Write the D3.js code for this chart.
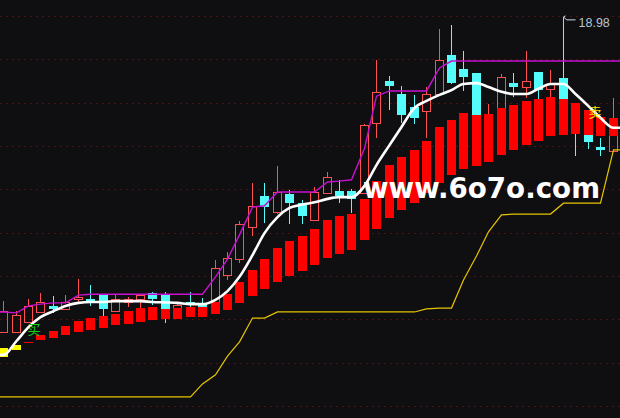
<!DOCTYPE html>
<html><head><meta charset="utf-8">
<script src="https://cdn.jsdelivr.net/npm/d3@7/dist/d3.min.js"></script>
<style>html,body{margin:0;padding:0;background:#0f0f12;overflow:hidden}</style>
</head><body><svg id="c" width="620" height="418"></svg>
<script>
// ---- data (prices) ----
const opens  = [11.71,11.71,11.94,12.17,12.31,12.24,12.47,12.47,12.56,12.19,12.40,12.47,12.61,12.58,12.26,12.40,12.38,12.40,13.02,13.39,14.13,14.85,14.48,14.89,14.68,14.29,14.92,14.96,14.96,14.92,16.53,17.50,17.20,16.90,16.81,17.20,18.10,17.78,17.68,16.25,16.60,17.45,17.36,17.71,17.32,17.57,16.92,16.72,15.98,15.88];
const highs  = [12.42,12.19,12.47,12.61,12.54,12.56,12.93,12.79,12.58,12.58,12.52,12.56,12.63,12.63,12.35,12.63,12.49,13.37,13.55,14.27,15.15,15.15,15.54,14.98,14.75,15.05,15.40,15.22,15.01,16.51,17.98,17.62,17.38,17.18,17.36,18.70,18.79,18.19,17.68,16.97,17.66,17.68,18.19,17.71,17.75,18.98,16.97,16.78,16.18,17.11];
const lows   = [11.71,11.68,11.94,12.17,12.15,12.24,12.38,12.31,12.08,12.19,12.28,12.26,12.33,11.92,12.24,12.28,12.26,12.38,12.91,13.30,13.92,14.22,14.43,14.20,14.20,14.29,14.89,14.68,14.45,14.92,16.18,16.83,16.53,16.51,16.18,17.20,17.43,17.27,16.69,16.14,16.60,17.13,17.11,17.08,17.13,17.06,15.77,15.93,15.77,15.88];
const closes = [12.19,12.10,12.31,12.40,12.24,12.40,12.52,12.42,12.24,12.47,12.47,12.56,12.47,12.24,12.33,12.35,12.28,13.18,13.42,14.20,14.62,14.59,14.94,14.68,14.38,14.94,15.28,14.85,14.78,16.48,17.25,17.38,16.72,16.65,17.20,17.98,17.45,17.59,16.72,16.69,17.59,17.36,17.50,17.29,17.43,17.06,16.37,16.09,15.91,16.60];
const bandTop    = [11.34,11.41,11.48,11.64,11.73,11.85,11.96,12.03,12.08,12.12,12.19,12.26,12.28,12.24,12.26,12.28,12.28,12.40,12.58,12.86,13.14,13.39,13.65,13.81,13.92,14.08,14.29,14.38,14.43,14.78,15.19,15.56,15.75,15.91,16.12,16.44,16.60,16.76,16.72,16.74,16.88,16.95,17.04,17.08,17.13,17.08,16.99,16.83,16.67,16.65];
const bandBottom = [11.13,11.29,11.45,11.52,11.57,11.64,11.71,11.75,11.80,11.87,11.89,11.94,11.98,12.01,12.01,12.05,12.05,12.12,12.22,12.38,12.54,12.70,12.86,13.00,13.12,13.25,13.42,13.51,13.60,13.83,14.08,14.34,14.52,14.68,14.92,15.15,15.33,15.47,15.54,15.63,15.79,15.91,16.02,16.12,16.23,16.25,16.28,16.25,16.23,16.23];
const bandState  = ["Y","Y","R","R","R","R","R","R","R","R","R","R","R","R","R","R","R","R","R","R","R","R","R","R","R","R","R","R","R","R","R","R","R","R","R","R","R","R","R","R","R","R","R","R","R","R","R","R","R","R"];
const whiteLine   = [11.18,11.50,11.82,12.05,12.19,12.31,12.38,12.40,12.40,12.42,12.42,12.42,12.40,12.39,12.38,12.35,12.35,12.45,12.65,12.98,13.48,13.99,14.36,14.57,14.65,14.70,14.78,14.82,14.82,15.08,15.56,16.02,16.44,16.88,17.04,17.18,17.29,17.43,17.45,17.36,17.25,17.20,17.20,17.32,17.43,17.43,17.20,16.92,16.65,16.42];
const magentaLine = [12.17,12.15,12.31,12.35,12.38,12.38,12.56,12.58,12.58,12.58,12.58,12.58,12.58,12.58,12.58,12.58,12.58,12.98,13.39,13.95,14.59,14.62,14.94,14.94,14.94,14.94,15.17,15.19,15.22,15.95,17.15,17.27,17.27,17.27,17.27,17.80,17.96,17.96,17.96,17.96,17.96,17.96,17.96,17.96,17.96,17.96,17.96,17.96,17.96,17.96];
const yellowLine  = [10.21,10.21,10.21,10.21,10.21,10.21,10.21,10.21,10.21,10.21,10.21,10.21,10.21,10.21,10.21,10.21,10.51,10.72,11.15,11.48,12.03,12.03,12.17,12.17,12.17,12.17,12.17,12.17,12.17,12.17,12.17,12.17,12.17,12.17,12.24,12.26,12.26,12.91,13.46,14.02,14.41,14.43,14.43,14.43,14.43,14.68,14.68,14.68,14.68,15.91];
const gridPrices = [10,11,12,13,14,15,16,17,18,19];
const peakIndex = 45, peakLabel = "18.98";
const buyIndex = 2, buyPrice = 11.78, buyLabel = "买";
const sellIndex = 47, sellPrice = 16.78, sellLabel = "卖";
const watermark = "www.6o7o.com";

// ---- drawing ----
const W = 620, H = 418;
const svg = d3.select("#c");
svg.append("rect").attr("width", W).attr("height", H).attr("fill", "#0f0f12");
const idx = d3.range(opens.length);
const x = d3.scaleBand().domain(idx).range([-2.62, 619.38]).paddingInner(0.277).paddingOuter(0.1385);
const y = d3.scaleLinear().domain([10, 19]).range([406, 16]);
const bw = Math.round(x.bandwidth());
const xl = i => Math.round(x(i));
const cx = i => xl(i) + Math.floor(bw / 2) + 0.5;

// grid
svg.append("g").selectAll("line").data(gridPrices).join("line")
  .attr("x1", 0).attr("x2", W)
  .attr("y1", d => Math.round(y(d)) + 0.5).attr("y2", d => Math.round(y(d)) + 0.5)
  .attr("stroke", "#4e1010").attr("stroke-dasharray", "2,4").attr("shape-rendering", "crispEdges");

const UP = "#ff5050", DOWN = "#54fcfc";
const cg = svg.append("g").attr("shape-rendering", "crispEdges");
idx.forEach(i => {
  const up = closes[i] >= opens[i];
  const top = y(Math.max(opens[i], closes[i])), bot = y(Math.min(opens[i], closes[i]));
  const col = up ? UP : DOWN;
  if (up) {
    cg.append("line").attr("x1", cx(i)).attr("x2", cx(i)).attr("y1", y(highs[i])).attr("y2", top).attr("stroke", col);
    cg.append("line").attr("x1", cx(i)).attr("x2", cx(i)).attr("y1", bot).attr("y2", y(lows[i])).attr("stroke", col);
    cg.append("rect").attr("x", xl(i) + 0.5).attr("y", Math.round(top) + 0.5)
      .attr("width", bw - 1).attr("height", Math.max(1, Math.round(bot) - Math.round(top)))
      .attr("fill", "none").attr("stroke", col);
  } else {
    cg.append("line").attr("x1", cx(i)).attr("x2", cx(i)).attr("y1", y(highs[i])).attr("y2", y(lows[i])).attr("stroke", col);
    cg.append("rect").attr("x", xl(i)).attr("y", Math.round(top))
      .attr("width", bw).attr("height", Math.max(2, Math.round(bot) - Math.round(top)))
      .attr("fill", col);
  }
});

// band bars
svg.append("g").attr("shape-rendering", "crispEdges").selectAll("rect").data(idx).join("rect")
  .attr("x", i => xl(i)).attr("width", bw)
  .attr("y", i => Math.round(y(bandTop[i])))
  .attr("height", i => Math.max(1, Math.round(y(bandBottom[i])) - Math.round(y(bandTop[i]))))
  .attr("fill", i => bandState[i] === "Y" ? "#ffff00" : "#ff0000");

// lines
function linePts(vals) {
  const pts = vals.map((v, i) => [cx(i), y(v)]);
  pts.unshift([0, y(vals[0])]);
  pts.push([W, y(vals[vals.length - 1])]);
  return pts;
}
const gen = d3.line();
svg.append("path").attr("d", gen(linePts(yellowLine))).attr("fill", "none").attr("stroke", "#e6c400").attr("stroke-width", 1.2);
svg.append("path").attr("d", gen(linePts(magentaLine))).attr("fill", "none").attr("stroke", "#c810d0").attr("stroke-width", 1.4);
const wl = d3.line().curve(d3.curveMonotoneX);
svg.append("path").attr("d", wl(linePts(whiteLine))).attr("fill", "none").attr("stroke", "#ffffff").attr("stroke-width", 2.6);

// peak marker
const px = cx(peakIndex), py = y(highs[peakIndex]);
svg.append("path").attr("d", `M${px},${py} l2,-1 M${px},${py} l3,3 l9,0`).attr("fill", "none").attr("stroke", "#d0d8e4").attr("stroke-width", 1);
svg.append("text").attr("x", px + 15).attr("y", py + 10).text(peakLabel)
  .attr("font-family", "Liberation Sans, Arial, sans-serif").attr("font-size", 12.5).attr("fill", "#b8c4d4");

// buy / sell signs
svg.append("text").attr("x", cx(buyIndex) + 5.5).attr("y", y(buyPrice)).attr("dy", "0.38em").attr("text-anchor", "middle")
  .attr("font-family", "Noto Sans CJK SC").attr("font-size", 13).attr("fill", "#14d214").text(buyLabel);
svg.append("text").attr("x", cx(sellIndex) + 6.5).attr("y", y(sellPrice)).attr("dy", "0.38em").attr("text-anchor", "middle")
  .attr("font-family", "Noto Sans CJK SC").attr("font-size", 13).attr("fill", "#ffe000").text(sellLabel);

// watermark
svg.append("text").attr("x", 363).attr("y", 198).text(watermark)
  .attr("font-family", "DejaVu Sans, sans-serif").attr("font-weight", "bold").attr("font-size", 29)
  .attr("textLength", 237).attr("lengthAdjust", "spacingAndGlyphs").attr("fill", "#ffffff");
</script></body></html>
